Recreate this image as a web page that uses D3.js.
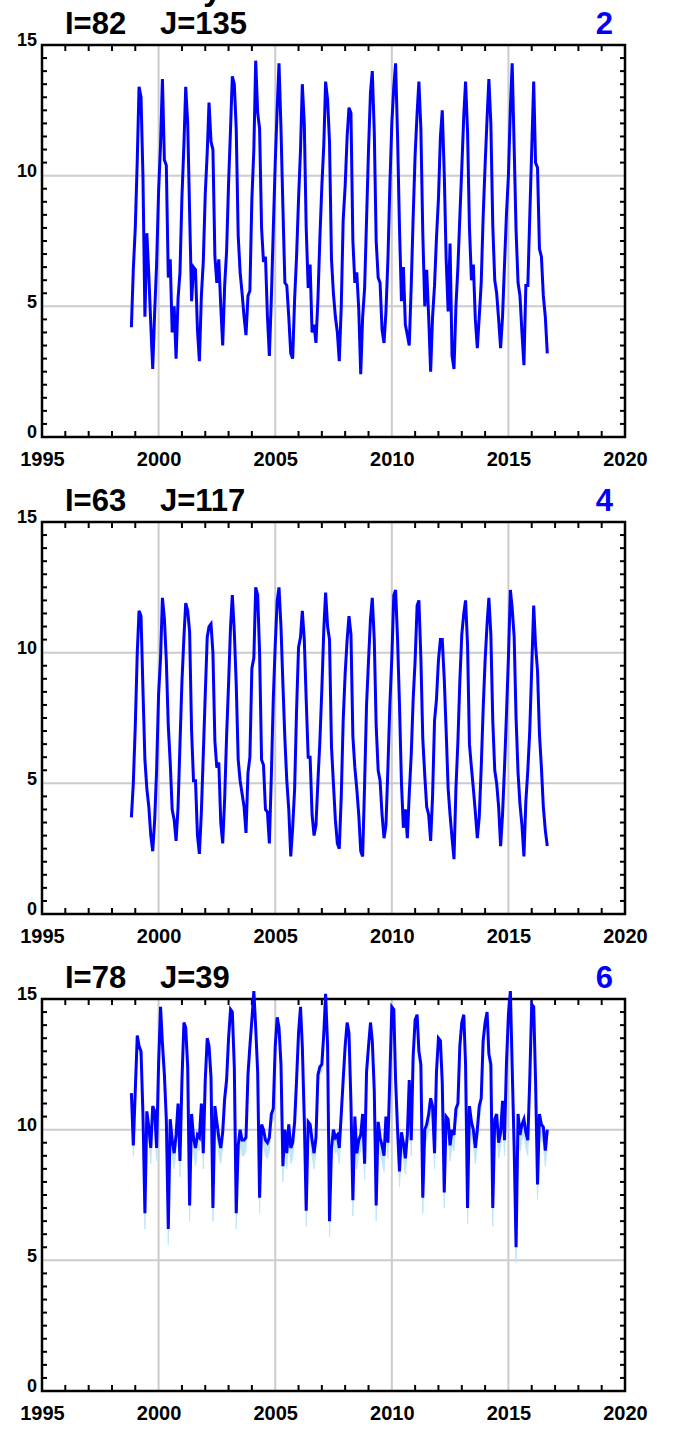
<!doctype html>
<html>
  <head>
    <script src="https://cdnjs.cloudflare.com/ajax/libs/d3/7.8.5/d3.min.js"></script>
    <style>
      body { margin: 0; background: #ffffff; }
      svg text { font-family: "Liberation Sans", Arial, sans-serif; font-weight: bold; }
    </style>
  </head>
  <body>
    <svg id="chart" width="675" height="1430"></svg>
    <script>
      // panel headers
      var panelI = [82, 63, 78];
      var panelJ = [135, 117, 39];
      var panelNo = ["2", "4", "6"];

      // axis ticks
      var yearTicks = [1995, 2000, 2005, 2010, 2015, 2020];
      var valueTicks = [0, 5, 10, 15];

      // monthly values, first month = Nov 1998, last = Sep 2016
      var p1Values = [
        4.2, 6.4,
        8.0, 10.6, 13.4, 13.0, 10.0, 4.6, 7.8, 6.2, 4.3, 2.6, 4.8, 6.6,   // 1999
        9.4, 11.2, 13.7, 10.6, 10.4, 6.1, 6.8, 4.0, 5.0, 3.0, 5.3, 6.3,   // 2000
        9.2, 11.2, 13.4, 12.0, 8.6, 5.2, 6.5, 6.4, 4.1, 2.9, 5.4, 6.7,    // 2001
        9.3, 10.9, 12.8, 11.3, 11.0, 6.9, 5.9, 6.8, 5.0, 3.5, 5.8, 7.1,   // 2002
        9.7, 11.8, 13.8, 13.5, 11.8, 7.7, 6.3, 5.5, 4.6, 3.9, 5.4, 5.6,   // 2003
        9.1, 11.0, 14.4, 12.4, 11.8, 8.0, 6.7, 6.9, 4.6, 3.1, 5.3, 7.9,   // 2004
        10.5, 12.6, 14.3, 11.8, 8.8, 5.9, 5.8, 4.6, 3.2, 3.0, 5.3, 6.9,   // 2005
        9.1, 11.0, 13.5, 12.0, 8.0, 5.7, 6.6, 4.0, 4.3, 3.6, 5.3, 7.6,    // 2006
        9.6, 11.2, 13.6, 12.9, 11.3, 6.8, 5.5, 4.6, 4.0, 2.9, 5.0, 8.3,   // 2007
        9.6, 11.5, 12.6, 12.4, 7.5, 5.9, 6.3, 4.9, 2.4, 4.6, 5.7, 8.3,    // 2008
        11.0, 13.2, 14.0, 11.7, 7.5, 6.1, 5.9, 4.1, 3.6, 4.8, 6.8, 9.6,   // 2009
        12.0, 13.4, 14.3, 11.5, 8.0, 5.2, 6.5, 4.3, 3.9, 3.5, 5.8, 8.4,   // 2010
        10.8, 12.4, 13.6, 11.8, 7.8, 5.0, 6.4, 4.6, 2.5, 4.6, 5.8, 7.6,   // 2011
        9.1, 11.5, 12.5, 10.1, 6.8, 4.8, 7.4, 3.1, 2.6, 5.0, 6.5, 8.4,    // 2012
        10.3, 12.3, 13.6, 11.7, 8.0, 6.0, 6.6, 4.5, 3.4, 4.6, 5.9, 8.4,   // 2013
        10.4, 12.2, 13.7, 12.0, 8.1, 6.0, 5.5, 4.5, 3.4, 4.6, 6.6, 8.5,   // 2014
        10.0, 12.6, 14.3, 11.1, 7.9, 5.9, 5.4, 4.0, 2.75, 5.8, 5.8, 8.4,  // 2015
        11.0, 13.6, 10.5, 10.3, 7.2, 6.9, 5.4, 4.6, 3.2                   // 2016
      ];

      var p2Values = [
        3.7, 5.0,
        7.2, 10.0, 11.6, 11.4, 8.6, 5.9, 4.8, 4.1, 3.0, 2.4, 3.6, 5.5,    // 1999
        8.4, 9.8, 12.1, 11.3, 9.7, 7.2, 5.8, 4.0, 3.6, 2.8, 4.1, 6.5,     // 2000
        8.9, 10.6, 11.9, 11.6, 10.8, 7.0, 5.1, 5.1, 3.0, 2.3, 3.9, 6.1,   // 2001
        8.4, 10.6, 11.0, 11.1, 10.0, 6.6, 5.6, 5.8, 3.5, 2.7, 4.4, 6.8,   // 2002
        8.8, 11.0, 12.2, 10.8, 8.8, 5.9, 5.1, 4.6, 4.1, 3.1, 5.4, 6.0,    // 2003
        9.4, 9.8, 12.5, 12.2, 10.0, 5.9, 5.7, 4.0, 3.9, 2.7, 5.3, 8.2,    // 2004
        10.3, 12.0, 12.5, 11.0, 8.8, 6.7, 5.1, 4.0, 2.2, 3.3, 4.8, 7.8,   // 2005
        10.2, 10.6, 11.6, 10.5, 8.2, 6.0, 6.0, 3.8, 3.0, 3.4, 5.1, 6.6,   // 2006
        8.6, 10.9, 12.3, 11.0, 10.5, 6.4, 5.0, 3.6, 2.7, 2.5, 4.5, 7.4,   // 2007
        9.2, 10.5, 11.4, 10.7, 6.8, 5.6, 4.8, 3.8, 2.4, 2.2, 5.0, 8.0,    // 2008
        9.7, 11.3, 12.1, 10.5, 7.2, 5.5, 5.1, 3.8, 2.9, 3.4, 5.6, 8.0,    // 2009
        9.8, 12.2, 12.4, 10.5, 8.0, 5.0, 3.3, 4.0, 2.9, 4.6, 6.1, 8.2,    // 2010
        9.7, 11.8, 12.0, 9.8, 6.7, 5.3, 4.1, 3.8, 2.8, 4.5, 7.4, 8.2,     // 2011
        9.7, 10.5, 10.5, 9.0, 7.0, 4.8, 3.8, 2.9, 2.1, 4.8, 6.6, 8.9,     // 2012
        10.7, 11.5, 12.0, 10.3, 6.5, 5.6, 4.8, 3.9, 2.9, 3.7, 5.6, 7.8,   // 2013
        9.7, 11.1, 12.1, 10.7, 7.4, 5.5, 5.0, 4.1, 2.6, 3.8, 5.6, 7.6,    // 2014
        9.8, 12.4, 11.7, 10.6, 7.5, 5.4, 4.2, 3.4, 2.2, 4.3, 5.5, 7.0,    // 2015
        9.4, 11.8, 10.3, 9.3, 6.9, 5.6, 4.1, 3.2, 2.6                     // 2016
      ];

      var p3Values = [
        11.4, 9.4,
        11.5, 13.6, 13.2, 13.0, 10.6, 6.8, 10.7, 10.1, 9.3, 10.9, 10.7, 9.3,   // 1999
        12.5, 14.7, 13.3, 12.1, 10.4, 6.2, 10.4, 9.6, 9.1, 9.8, 11.0, 8.8,    // 2000
        11.9, 14.1, 13.9, 12.4, 7.1, 10.6, 9.7, 9.3, 9.8, 9.7, 11.0, 9.1,     // 2001
        11.9, 13.5, 13.2, 12.0, 7.0, 10.9, 10.3, 9.7, 9.3, 9.9, 11.2, 11.9,   // 2002
        13.5, 14.6, 14.5, 12.4, 6.8, 9.4, 10.0, 9.6, 9.6, 9.7, 12.1, 13.2,    // 2003
        14.2, 15.3, 13.9, 12.2, 7.4, 10.2, 10.0, 9.6, 9.5, 9.7, 10.6, 10.8,   // 2004
        13.2, 14.3, 13.9, 12.5, 8.6, 10.0, 9.1, 10.2, 9.3, 9.5, 10.3, 11.9,   // 2005
        13.7, 14.7, 13.2, 10.4, 6.9, 10.3, 10.2, 9.6, 9.1, 9.7, 12.1, 12.4,   // 2006
        12.5, 13.7, 15.2, 13.2, 6.5, 9.3, 10.0, 9.7, 9.8, 9.3, 10.6, 11.9,    // 2007
        13.2, 14.1, 13.7, 11.0, 7.3, 10.5, 9.1, 9.6, 9.8, 10.6, 8.7, 12.2,    // 2008
        13.2, 14.1, 13.4, 11.5, 7.1, 10.3, 9.7, 9.4, 9.0, 10.5, 9.5, 12.0,    // 2009
        14.7, 14.6, 11.9, 10.0, 8.4, 9.9, 9.5, 8.9, 9.8, 11.9, 9.6, 12.8,     // 2010
        14.2, 14.4, 13.0, 12.5, 7.4, 10.0, 10.2, 10.6, 11.2, 10.9, 9.1, 12.2, // 2011
        13.5, 13.4, 11.8, 7.6, 10.5, 10.4, 9.4, 10.0, 9.8, 10.8, 11.0, 13.2,  // 2012
        14.1, 14.4, 12.5, 7.0, 10.9, 10.3, 10.0, 9.3, 10.0, 10.9, 11.2, 13.4, // 2013
        14.1, 14.5, 12.9, 12.5, 7.0, 10.4, 10.6, 9.5, 9.9, 11.1, 9.6, 12.5,   // 2014
        14.4, 15.3, 12.4, 9.3, 5.5, 10.6, 9.8, 10.2, 10.4, 9.9, 9.6, 11.9,    // 2015
        14.8, 14.7, 11.9, 7.9, 10.6, 10.2, 10.1, 9.2, 10.0                    // 2016
      ];

      // lower bound of the shaded band (panel 6 only)
      var p3Lower = [
        11.2, 9.0,
        11.3, 13.4, 13.0, 12.7, 10.2, 6.2, 10.3, 9.6, 8.7, 10.5, 10.3, 8.8,
        12.2, 14.5, 13.0, 11.7, 9.9, 5.6, 9.9, 9.0, 8.5, 9.3, 10.6, 8.2,
        11.5, 13.9, 13.6, 12.0, 6.5, 10.1, 9.2, 8.6, 9.3, 9.2, 10.6, 8.5,
        11.6, 13.3, 12.9, 11.6, 6.5, 10.4, 9.8, 9.1, 8.7, 9.4, 10.8, 11.5,
        13.2, 14.4, 14.2, 12.0, 6.2, 8.8, 9.5, 9.0, 9.0, 9.2, 11.7, 12.9,
        13.9, 15.1, 13.6, 11.8, 6.8, 9.7, 9.5, 9.0, 8.9, 9.2, 10.2, 10.4,
        12.9, 14.1, 13.6, 12.1, 8.0, 9.5, 8.5, 9.7, 8.7, 8.9, 9.8, 11.5,
        13.4, 14.5, 12.9, 10.0, 6.3, 9.8, 9.7, 9.0, 8.5, 9.2, 11.7, 12.1,
        12.2, 13.5, 14.9, 12.8, 5.9, 8.7, 9.5, 9.1, 9.2, 8.7, 10.2, 11.5,
        12.9, 13.9, 13.4, 10.6, 6.7, 10.0, 8.5, 9.0, 9.2, 10.1, 8.1, 11.8,
        12.9, 13.9, 13.1, 11.1, 6.5, 9.8, 9.1, 8.8, 8.4, 10.0, 8.9, 11.6,
        14.4, 14.4, 11.5, 9.5, 7.8, 9.3, 8.9, 8.3, 9.2, 11.5, 9.0, 12.4,
        13.9, 14.2, 12.6, 12.1, 6.8, 9.4, 9.6, 10.0, 10.7, 10.4, 8.5, 11.8,
        13.2, 13.1, 11.4, 7.0, 10.0, 9.8, 8.8, 9.4, 9.2, 10.3, 10.6, 12.9,
        13.8, 14.2, 12.1, 6.4, 10.4, 9.7, 9.4, 8.7, 9.4, 10.4, 10.8, 13.1,
        13.8, 14.3, 12.5, 12.1, 6.3, 9.8, 10.0, 8.9, 9.3, 10.6, 9.0, 12.1,
        14.1, 15.1, 12.0, 8.8, 4.9, 10.0, 9.2, 9.6, 9.8, 9.3, 9.0, 11.5,
        14.5, 14.5, 11.5, 7.3, 10.0, 9.6, 9.5, 8.6, 9.4
      ];

      var series = [p1Values, p2Values, p3Values];
      var lowers = [null, null, p3Lower];

      var svg = d3.select("#chart");

      // partly visible header text cut by the top edge (as in the original)
      svg.append("text").attr("x", 203).attr("y", 0)
        .attr("font-size", 34).attr("fill", "#000").text("y");

      var left = 42, right = 625, plotH = 392;
      var panelTops = [45, 522, 999];

      var x = d3.scaleTime()
        .domain([new Date(1995, 0, 1), new Date(2020, 0, 1)])
        .range([left, right]);
      var y = d3.scaleLinear().domain([0, 15]).range([plotH, 0]);

      var minorYears = d3.range(1996, 2020).filter(function(v){ return v % 5 != 0; });
      var minorVals = d3.range(0.5, 15, 0.5).filter(function(v){ return v % 5 != 0; });

      series.forEach(function(vals, k) {
        var g = svg.append("g").attr("transform", "translate(0," + panelTops[k] + ")");
        var data = vals.map(function(v, i){ return { date: new Date(1998, 10 + i, 1), v: v }; });

        // grid
        g.selectAll(".vg").data([2000, 2005, 2010, 2015]).enter().append("line")
          .attr("x1", function(d){ return x(new Date(d, 0, 1)); })
          .attr("x2", function(d){ return x(new Date(d, 0, 1)); })
          .attr("y1", 0).attr("y2", plotH)
          .attr("stroke", "#cccccc").attr("stroke-width", 2);
        g.selectAll(".hg").data([5, 10]).enter().append("line")
          .attr("x1", left).attr("x2", right)
          .attr("y1", function(d){ return y(d); }).attr("y2", function(d){ return y(d); })
          .attr("stroke", "#cccccc").attr("stroke-width", 2);

        // minor ticks on all four sides
        minorYears.forEach(function(yr) {
          var xx = x(new Date(yr, 0, 1));
          g.append("line").attr("x1", xx).attr("x2", xx).attr("y1", 0).attr("y2", 6)
            .attr("stroke", "#000").attr("stroke-width", 2);
          g.append("line").attr("x1", xx).attr("x2", xx).attr("y1", plotH).attr("y2", plotH - 6)
            .attr("stroke", "#000").attr("stroke-width", 2);
        });
        minorVals.forEach(function(v) {
          g.append("line").attr("x1", left).attr("x2", left + 5).attr("y1", y(v)).attr("y2", y(v))
            .attr("stroke", "#000").attr("stroke-width", 2);
          g.append("line").attr("x1", right).attr("x2", right - 5).attr("y1", y(v)).attr("y2", y(v))
            .attr("stroke", "#000").attr("stroke-width", 2);
        });

        // frame
        g.append("rect").attr("x", left).attr("y", 0)
          .attr("width", right - left).attr("height", plotH)
          .attr("fill", "none").attr("stroke", "#000").attr("stroke-width", 2.5);

        // axis labels
        var xAxis = d3.axisBottom(x)
          .tickValues(yearTicks.map(function(d){ return new Date(d, 0, 1); }))
          .tickFormat(d3.timeFormat("%Y")).tickSize(0).tickPadding(15);
        var xa = g.append("g").attr("transform", "translate(0," + plotH + ")").call(xAxis);
        xa.select(".domain").remove();
        xa.selectAll("text").attr("font-size", 20).attr("fill", "#000")
          .style("font-family", "'Liberation Sans', Arial, sans-serif").style("font-weight", "bold");

        var yAxis = d3.axisLeft(y).tickValues(valueTicks).tickSize(0).tickPadding(5);
        var ya = g.append("g").attr("transform", "translate(" + left + ",0)").call(yAxis);
        ya.select(".domain").remove();
        ya.selectAll("text").attr("font-size", 18).attr("fill", "#000").attr("dy", "0.05em")
          .style("font-family", "'Liberation Sans', Arial, sans-serif").style("font-weight", "bold");

        // shaded band
        if (lowers[k]) {
          var band = data.map(function(d, i){ return { date: d.date, hi: d.v, lo: lowers[k][i] }; });
          g.append("path").datum(band)
            .attr("fill", "#bfe6fb").attr("stroke", "#bfe6fb").attr("stroke-width", 1)
            .attr("d", d3.area()
              .x(function(d){ return x(d.date); })
              .y0(function(d){ return y(d.lo); })
              .y1(function(d){ return y(d.hi); }));
        }

        // series line
        g.append("path").datum(data)
          .attr("fill", "none").attr("stroke", "#0000ff").attr("stroke-width", 3)
          .attr("stroke-linejoin", "miter")
          .attr("d", d3.line().x(function(d){ return x(d.date); }).y(function(d){ return y(d.v); }));

        // header
        g.append("text").attr("x", 65).attr("y", -11).attr("font-size", 31).attr("fill", "#000")
          .text("I=" + panelI[k]);
        g.append("text").attr("x", 160).attr("y", -11).attr("font-size", 31).attr("fill", "#000")
          .text("J=" + panelJ[k]);
        g.append("text").attr("x", 613).attr("y", -11).attr("font-size", 31)
          .attr("text-anchor", "end").attr("fill", "#0000ff").text(panelNo[k]);
      });
    </script>
  </body>
</html>
